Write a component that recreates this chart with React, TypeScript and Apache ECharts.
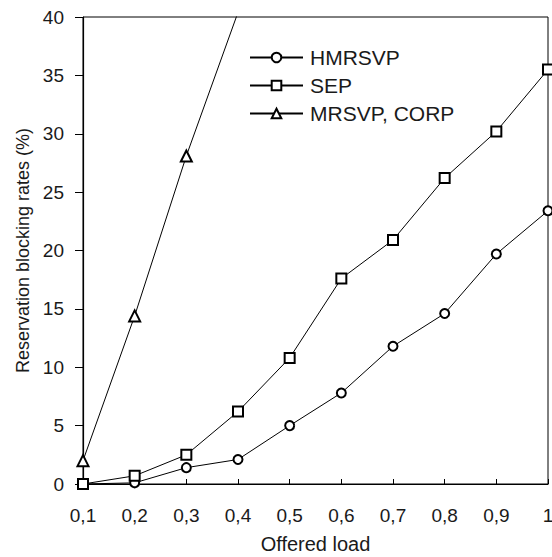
import React, { useEffect, useRef } from "react";
import * as echarts from "echarts";

const categories = ["0,1", "0,2", "0,3", "0,4", "0,5", "0,6", "0,7", "0,8", "0,9", "1"];
const hmrsvp = [0, 0.1, 1.4, 2.1, 5.0, 7.8, 11.8, 14.6, 19.7, 23.4];
const sep = [0, 0.7, 2.5, 6.2, 10.8, 17.6, 20.9, 26.2, 30.2, 35.5];
const mrsvpCorp = [2.0, 14.4, 28.1, 40.4];
const yTicks = { min: 0, max: 40, interval: 5 };

const FONT = "'Liberation Sans', Arial, sans-serif";
const TXT = "#1a1a1a";

export default function App() {
  const ref = useRef<HTMLDivElement>(null);
  useEffect(() => {
    if (!ref.current) return;
    const chart = echarts.init(ref.current, null, { renderer: "svg" });
    const lineStyle = { color: "#000", width: 1 };
    const itemStyle = { color: "#000", borderColor: "#000", borderWidth: 1 };
    chart.setOption({
      animation: false,
      backgroundColor: "#fff",
      textStyle: { fontFamily: FONT, color: TXT },
      grid: {
        left: 83,
        right: 4,
        top: 17,
        bottom: 73,
        containLabel: false,
        outerBoundsMode: "none",
        show: true,
        borderColor: "#000",
        borderWidth: 1,
        backgroundColor: "transparent",
      },
      legend: {
        orient: "vertical",
        left: 244,
        top: 42,
        itemWidth: 53,
        itemHeight: 12,
        itemGap: 7,
        textStyle: { fontSize: 21, color: TXT, fontFamily: FONT, padding: [0, 0, 0, 2] },
        data: ["HMRSVP", "SEP", "MRSVP, CORP"],
      },
      xAxis: {
        type: "category",
        data: categories,
        boundaryGap: false,
        name: "Offered load",
        nameLocation: "middle",
        nameGap: 50,
        nameTextStyle: { fontSize: 20, color: TXT, fontFamily: FONT },
        axisLine: { lineStyle: { color: "#000", width: 1.2 } },
        axisTick: { inside: true, length: 5, lineStyle: { color: "#000" } },
        axisLabel: { fontSize: 19, color: TXT, margin: 22, fontFamily: FONT },
        splitLine: { show: false },
      },
      yAxis: {
        type: "value",
        min: yTicks.min,
        max: yTicks.max,
        interval: yTicks.interval,
        name: "Reservation blocking rates (%)",
        nameLocation: "middle",
        nameGap: 50,
        nameTextStyle: { fontSize: 18, color: TXT, fontFamily: FONT },
        axisLine: { show: true, lineStyle: { color: "#000", width: 1.2 } },
        axisTick: { show: true, inside: false, length: 8, lineStyle: { color: "#000" } },
        axisLabel: { fontSize: 19, color: TXT, margin: 19, fontFamily: FONT },
        splitLine: { show: false },
      },
      series: [
        {
          name: "HMRSVP",
          type: "line",
          data: hmrsvp,
          symbol: "emptyCircle",
          symbolSize: 9,
          lineStyle,
          itemStyle,
          clip: true,
        },
        {
          name: "SEP",
          type: "line",
          data: sep,
          symbol: "emptyRect",
          symbolSize: 10,
          lineStyle,
          itemStyle,
          clip: true,
        },
        {
          name: "MRSVP, CORP",
          type: "line",
          data: mrsvpCorp,
          symbol: "emptyTriangle",
          symbolSize: 11,
          lineStyle,
          itemStyle,
          clip: true,
        },
      ],
    });
    return () => chart.dispose();
  }, []);
  return (
    <div
      ref={ref}
      style={{ position: "fixed", left: 0, top: 0, width: 552, height: 557, background: "#fff" }}
    />
  );
}
